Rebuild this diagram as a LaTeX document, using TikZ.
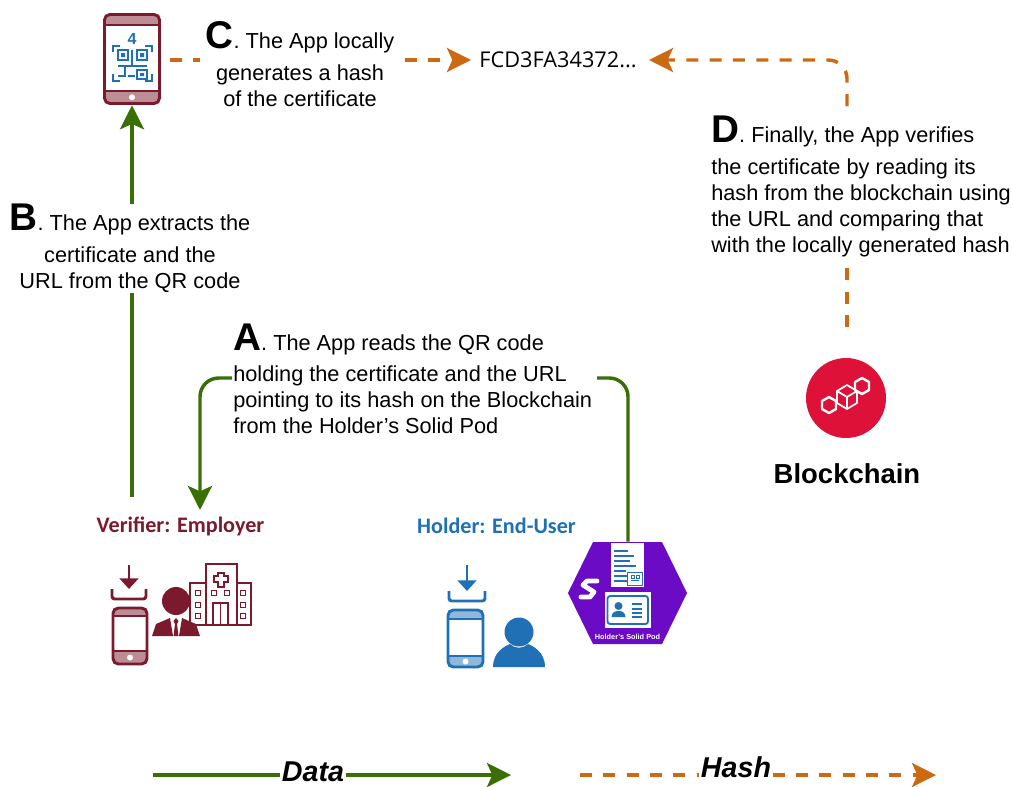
\documentclass[tikz,border=0pt]{standalone}
\usepackage{fontspec}
\setmainfont{Liberation Sans}
\newfontfamily\labelfont{Carlito}
\newfontfamily\hashfont{Open Sans}
\usetikzlibrary{arrows.meta}

\definecolor{datagreen}{HTML}{3A6F06}
\definecolor{hashorange}{HTML}{CC6A14}
\definecolor{verifierred}{HTML}{7A1A2C}
\definecolor{holderblue}{HTML}{1F70B5}
\definecolor{podpurple}{HTML}{6C0BC5}
\definecolor{chainred}{HTML}{DE1238}

\tikzstyle{step text} = [inner sep=0pt, font=\fontsize{16.3}{19.5}\selectfont, fill=white]
\tikzstyle{role} = [inner sep=0pt, font=\labelfont\bfseries\fontsize{16.6}{20}\selectfont]
\tikzstyle{legend} = [inner sep=1pt, fill=white, font=\bfseries\itshape\fontsize{21.5}{23}\selectfont]
\tikzstyle{dataline} = [line width=2.6pt, color=datagreen]
\tikzstyle{hashline} = [line width=2.6pt, color=hashorange, dash pattern=on 9pt off 8.5pt]
\tikzstyle{bighead} = [-{Stealth[length=18pt,width=18pt,inset=4pt]}]

\newcommand{\bigletter}[1]{{\fontsize{29}{29}\selectfont\bfseries #1}}
% phone: left, top, right, bottom, top stripe, bottom stripe, middle x, colour
\newcommand{\phoneicon}[8]{
    \fill [#8!50, rounded corners=4pt] (#1,#2) rectangle (#3,#4);
    \fill [white] (#1,#5) rectangle (#3,#6);
    \draw [#8, line width=2.2pt, rounded corners=4pt] (#1,#2) rectangle (#3,#4);
    \draw [#8, line width=1.4pt] (#1,#5) -- (#3,#5) (#1,#6) -- (#3,#6);
    \fill [white] (#7,{(#4+#6)/2}) circle [radius=3];
}
% download arrow and tray: middle x, arrow top, tray top, tray bottom, half width, colour
\newcommand{\trayicon}[6]{
    \draw [#6, line width=2.2pt, -{Triangle[length=8pt,width=14pt]}] (#1,#2) -- (#1,#3);
    \draw [#6, line width=2.2pt, rounded corners=2pt] ({#1-#5},#3) -- ({#1-#5},#4) -- ({#1+#5},#4) -- ({#1+#5},#3);
}

\begin{document}
\begin{tikzpicture}[x=0.75pt, y=-0.75pt]
    \useasboundingbox (0,0) rectangle (1013,786);

    % top phone with the QR code
    \phoneicon{104.5}{14.5}{159.5}{103.5}{25}{91}{132}{verifierred}
    \node (phoneqr) [minimum width=43.5pt, minimum height=69pt, inner sep=0pt] at (132,59) {};
    \node at (132,39) [holderblue, inner sep=0pt, font=\bfseries\fontsize{12}{12}\selectfont] {4};
    \draw [holderblue, line width=1pt]
        (113,52) |- (120,46) (145,46) -| (152,52) (113,74) |- (120,81) (145,81) -| (152,74)
        (118,50) rectangle (128,60) (137,50) rectangle (147,60) (137,70) rectangle (147,79)
        (132,50) -- (132,66) (118,66) -- (147,66) (125,66) -- (125,76) -- (118,76) (128,76) -- (135,76);
    \fill [holderblue] (121,53) rectangle (125,57) (140,53) rectangle (144,57) (140,73) rectangle (144,76);

    % verifier
    \phoneicon{113}{608}{147}{664}{616}{651}{130}{verifierred}
    \trayicon{129}{565}{589}{599}{17}{verifierred}
    \fill [verifierred] (176,601) circle [radius=14];
    \fill [verifierred] (152,636) -- (156,624) -- (170,618) -- (173,636) -- cycle
        (200,636) -- (196,624) -- (182,618) -- (179,636) -- cycle
        (176,618) -- (173.5,621) -- (175,624) -- (173.5,636) -- (178.5,636) -- (177,624) -- (178.5,621) -- cycle;
    \draw [verifierred, line width=1pt] (190,625) -- (190,583) -- (206,583) -- (206,564) -- (237,564) -- (237,583) -- (251,583) -- (251,625) -- (190,625)
        (206,583) -- (206,625) (237,583) -- (237,625) (213,625) -- (213,603) -- (228,603) -- (228,625) (220.5,603) -- (220.5,625)
        (218,573) -- (224,573) -- (224,576) -- (228,576) -- (228,582) -- (224,582) -- (224,587) -- (218,587) -- (218,582) -- (214,582) -- (214,576) -- (218,576) -- cycle;
    \foreach \wx/\wy in {198/593, 198/605, 198/616, 243/593, 243/605, 243/616, 214/593, 227/593}
        \draw [verifierred, line width=1pt] (\wx-2.5,\wy-2.5) rectangle (\wx+2.5,\wy+2.5);
    \node (verifier) [role, verifierred] at (180.5,526) {Verifier: Employer};

    % holder
    \phoneicon{448}{610}{483}{667}{619}{656}{465.5}{holderblue}
    \trayicon{467}{565}{591}{601}{18}{holderblue}
    \fill [holderblue] (519,632) circle [radius=14.5];
    \fill [holderblue] (493,667) .. controls (493,652) and (505,646) .. (510,644) .. controls (515,649) and (523,649) .. (528,644) .. controls (533,646) and (545,652) .. (545,667) -- cycle;
    \node (holder) [role, holderblue] at (496.5,526) {Holder: End-User};

    % solid pod
    \fill [podpurple] (568,593) -- (593,542) -- (662,542) -- (687,593) -- (662,644) -- (593,644) -- cycle;
    \node (pod) [minimum width=89pt, minimum height=76.5pt, inner sep=0pt] at (628,593) {};
    \draw [white, line width=3.6pt, line join=round, line cap=round] (597,581) -- (587,581) -- (583,585) -- (594,592) -- (590,597) -- (581,597);
    \fill [white] (611,543) rectangle (644,587);
    \draw [holderblue, line width=0.8pt] (614,551) -- (628,551) (614,556) -- (634,556) (614,561) -- (630,561) (614,566) -- (636,566) (614,571) -- (626,571) (614,576) -- (628,576) (614,581) -- (628,581);
    \draw [holderblue, line width=0.7pt] (627,572) rectangle (642,585) (631,575) rectangle (634,578) (636,575) rectangle (639,578) (631,580) -- (639,580);
    \fill [white] (605,592) rectangle (651,628);
    \draw [holderblue, line width=1.4pt, rounded corners=2pt] (607.5,596) rectangle (648,624);
    \fill [holderblue] (618.5,606) circle [radius=4];
    \fill [holderblue] (611.5,617) .. controls (612,612) and (615,611) .. (618.5,611) .. controls (622,611) and (625,612) .. (625.5,617) -- cycle;
    \draw [holderblue, line width=1pt] (632,604) -- (642,604) (632,609) -- (642,609) (632,613) -- (642,613) (632,617) -- (642,617);
    \node (podname) [white, inner sep=0pt, font=\bfseries\fontsize{5.5}{6}\selectfont] at (627.5,637) {Holder's Solid Pod};

    % blockchain
    \node (blockchain) [circle, fill=chainred, minimum size=60pt, inner sep=0pt] at (846,398) {};
    \draw [white, line width=1.3pt, line join=round] (847,385) -- (857,391) -- (857,403) -- (847,409) -- (837,403) -- (837,391) -- cycle (837,391) -- (847,397) -- (857,391) (847,397) -- (847,409);
    \draw [white, line width=1.8pt, line join=round] (836,401) -- (836,409) -- (829,413) -- (822,409) -- (822,401) -- (829,397) -- cycle;
    \draw [white, line width=1.8pt, line join=round] (869,382) -- (869,390) -- (862,394) -- (855,390) -- (855,382) -- (862,378) -- cycle;
    \node (chainname) [inner sep=0pt, font=\bfseries\fontsize{20.6}{22}\selectfont] at (847,474) {Blockchain};

    % step texts
    \node (textA) [step text, anchor=north west, align=left] at (233,323.5) {\bigletter{A}. The App reads the QR code\\[4pt]holding the certificate and the URL\\pointing to its hash on the Blockchain\\from the Holder's Solid Pod};
    \node (textB) [step text, anchor=north, align=center] at (130,204) {\bigletter{B}. The App extracts the\\[4pt]certificate and the\\URL from the QR code};
    \node (textC) [step text, anchor=north, align=center] at (300,21.5) {\bigletter{C}. The App locally\\[4pt]generates a hash\\of the certificate};
    \node (textD) [step text, anchor=north west, align=left] at (711,116) {\bigletter{D}. Finally, the App verifies\\[4pt]the certificate by reading its\\hash from the blockchain using\\the URL and comparing that\\with the locally generated hash};
    \node (hash) [inner sep=0pt, font=\hashfont\fontsize{16.3}{18}\selectfont] at (558,60) {FCD3FA34372...};

    % connectors
    \coordinate (verifierfoot) at (132,497);
    \coordinate (verifiertarget) at (200,510);
    \coordinate (podlink) at (597,378);
    \coordinate (readlink) at (232,378);
    \coordinate (phoneout) at (170,60);
    \coordinate (textCin) at (200,60);
    \coordinate (textCout) at (405,60);
    \coordinate (hashin) at (471,60);
    \coordinate (chainout) at (847,327);
    \coordinate (textDin) at (847,260);
    \coordinate (textDout) at (847,106);
    \coordinate (hashback) at (649,60);

    \draw [dataline] (verifierfoot) -- (verifierfoot |- textB.south);
    \draw [dataline, bighead] (phoneqr.south |- textB.north) -- (phoneqr.south);
    \draw [dataline, rounded corners=14pt] (pod.north) |- (podlink);
    \draw [dataline, bighead, rounded corners=14pt] (readlink) -| (verifiertarget);
    \draw [hashline] (phoneout) -- (textCin);
    \draw [hashline, bighead] (textCout) -- (hashin);
    \draw [hashline] (chainout) -- (textDin);
    \draw [hashline, bighead, rounded corners=14pt] (textDout) |- (hashback);

    % legend
    \coordinate (datastart) at (153,775);
    \coordinate (dataend) at (511,775);
    \coordinate (hashstart) at (580,775);
    \coordinate (hashend) at (936,775);
    \node (datalabel) [legend] at (313,771.5) {Data};
    \node (hashlabel) [legend] at (736,767) {Hash};
    \draw [dataline] (datastart) -- (datalabel.west |- datastart);
    \draw [dataline, bighead] (datalabel.east |- dataend) -- (dataend);
    \draw [hashline] (hashstart) -- (hashlabel.west |- hashstart);
    \draw [hashline, bighead] (hashlabel.east |- hashend) -- (hashend);
\end{tikzpicture}
\end{document}
